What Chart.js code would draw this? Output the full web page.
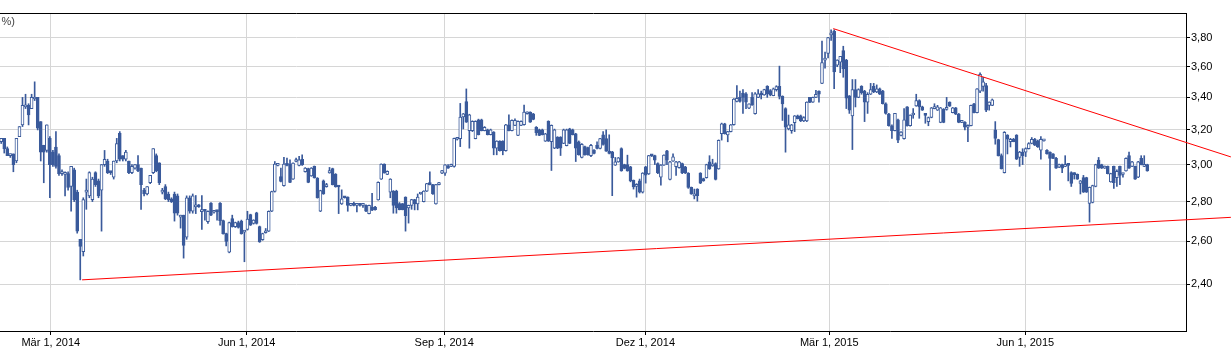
<!DOCTYPE html>
<html>
<head>
<meta charset="utf-8">
<script src="https://cdn.jsdelivr.net/npm/chart.js@4.4.1/dist/chart.umd.min.js"></script>
<style>
    html, body { margin: 0; padding: 0; background: #fff; }
    #wrap { width: 1231px; height: 350px; }
</style>
</head>
<body>
<div id="wrap"><canvas id="kurs" width="1231" height="350"></canvas></div>
<script>
// one candle per trading day, x = index of the day
var opens = [
    3.13,3.15,3.09,3.05,3.06,3.02,3.16,3.23,3.34,3.35,
    3.33,3.39,3.40,3.25,3.11,3.08,3.15,3.07,3.10,3.05,
    2.95,2.946,2.95,2.88,2.97,2.85,2.61,2.55,2.85,2.83,
    2.81,2.955,2.91,2.86,3.00,3.02,2.96,2.93,3.02,3.18,
    3.05,3.03,3.02,2.955,2.98,3.00,2.98,2.86,2.84,2.90,
    2.955,3.05,3.01,2.85,2.88,2.84,2.815,2.84,2.83,2.72,
    2.73,2.62,2.82,2.75,
    2.772,2.783,2.748,2.752,2.697,2.792,2.745,2.75,2.792,2.702,
    2.638,2.548,2.713,2.672,2.692,2.70,2.645,2.658,2.733,2.688,
    2.742,2.672,2.608,2.642,2.65,2.75,2.853,2.995,2.934,2.884,
    3.002,3.002,2.92,3.017,2.995,3.03,2.96,2.977,2.937,2.99,
    2.925,2.75,2.911,2.879,2.954,2.977,2.946,2.879,2.788,2.823,
    2.823,2.78,2.782,2.78,2.781,2.78,2.78,2.738,2.772,2.772,
    2.809,2.92,3.002,2.946,2.849,
    2.855,2.855,2.79,2.79,2.823,2.767,2.78,2.81,2.788,2.84,
    2.80,2.855,2.90,2.89,2.788,2.89,2.952,2.952,2.99,2.99,
    2.99,3.145,
    3.149,3.278,3.373,3.196,3.196,3.149,3.261,3.261,3.196,3.20,
    3.172,3.187,3.093,3.134,3.134,3.078,3.231,3.196,3.227,3.168,
    3.227,3.231,3.298,3.308,3.298,3.216,3.20,3.20,3.134,3.251,
    3.13,3.093,3.158,3.158,3.121,3.108,3.206,3.20,3.177,3.13,
    3.04,3.102,3.096,
    3.05,3.082,3.11,3.091,3.171,3.149,3.076,3.072,2.997,3.015,
    3.091,3.00,3.00,2.988,2.913,2.88,2.91,2.849,2.988,2.948,
    3.05,3.05,3.006,2.93,2.997,3.078,2.918,3.019,2.988,2.983,
    3.006,2.988,2.953,2.875,2.83,2.866,2.953,2.923,2.927,3.015,
    2.993,3.006,2.976,3.177,3.237,3.171,3.19,3.231,3.374,3.40,
    3.428,3.422,3.333,3.40,3.298,3.40,3.426,3.415,3.471,3.443,
    3.411,3.45,3.471,3.406,
    3.33,3.206,3.196,3.244,3.285,3.285,3.254,3.254,3.40,3.37,
    3.40,3.44,3.49,3.645,3.69,3.82,3.845,3.61,3.63,3.71,
    3.645,3.41,3.285,3.45,3.40,3.47,3.44,3.37,3.42,3.47,
    3.435,3.455,3.44,3.36,3.295,3.225,3.196,3.26,3.167,3.148,
    3.34,3.225,3.29,3.346,3.38,3.34,3.29,3.25,3.275,3.33,
    3.32,3.245,3.325,3.325,3.37,3.305,3.335,3.295,3.245,3.245,
    3.216,3.226,3.36,3.305,
    3.44,3.47,3.475,3.35,3.35,3.20,3.143,3.05,2.955,3.17,
    3.13,3.145,3.17,3.04,3.07,3.07,3.09,3.12,3.145,3.135,
    3.082,3.135,3.08,3.07,3.06,3.035,2.985,3.00,2.99,3.00,
    2.955,2.946,2.946,2.897,2.928,2.928,2.79,2.795,2.88,3.025,
    3.00,2.98,2.99,2.905,2.99,2.928,2.99,2.945,2.965,3.05,
    2.99,2.99,2.93,3.035,2.99,3.00
];
var highs = [
    3.15,3.15,3.10,3.06,3.06,3.15,3.22,3.40,3.42,3.36,
    3.42,3.50,3.40,3.25,3.11,3.23,3.16,3.08,3.19,3.06,
    2.97,2.96,2.96,2.99,2.98,2.86,2.61,2.82,2.92,2.96,
    2.93,2.96,2.92,3.00,3.08,3.03,2.96,3.02,3.15,3.19,
    3.05,3.08,3.02,3.00,3.00,3.05,2.98,2.87,2.88,2.94,
    3.09,3.06,3.01,2.87,2.89,2.85,2.82,2.85,2.84,2.73,
    2.73,2.83,2.83,2.84,
    2.832,2.785,2.832,2.753,2.752,2.795,2.752,2.752,2.795,2.705,
    2.64,2.695,2.73,2.695,2.70,2.705,2.652,2.75,2.735,2.707,
    2.745,2.675,2.64,2.663,2.752,2.855,3.017,3.005,2.981,3.04,
    3.036,3.027,3.01,3.036,3.046,3.055,2.983,2.98,2.983,2.992,
    2.928,2.86,2.915,2.897,2.984,2.98,2.95,2.882,2.862,2.825,
    2.825,2.785,2.797,2.783,2.785,2.79,2.783,2.782,2.844,2.775,
    2.905,3.004,3.004,2.965,2.922,
    2.858,2.86,2.795,2.79,2.825,2.782,2.812,2.812,2.84,2.846,
    2.857,2.897,2.96,2.892,2.892,2.902,2.968,3.00,3.00,3.002,
    3.152,3.152,
    3.362,3.30,3.454,3.295,3.255,3.255,3.265,3.265,3.22,3.205,
    3.205,3.19,3.136,3.136,3.136,3.233,3.292,3.26,3.267,3.255,
    3.255,3.352,3.31,3.31,3.30,3.22,3.205,3.205,3.18,3.255,
    3.23,3.205,3.16,3.16,3.205,3.205,3.21,3.205,3.18,3.135,
    3.12,3.105,3.10,
    3.115,3.085,3.13,3.15,3.19,3.2,3.171,3.075,3.04,3.04,
    3.095,3.002,3.053,2.99,2.915,2.895,2.92,2.955,2.99,3.052,
    3.053,3.053,3.01,3.0,3.055,3.08,3.018,3.06,3.018,3.018,
    3.008,2.99,2.955,2.877,2.866,2.868,2.955,2.925,3.002,3.05,
    3.03,3.01,3.141,3.241,3.24,3.192,3.233,3.392,3.475,3.44,
    3.45,3.43,3.36,3.43,3.43,3.45,3.44,3.452,3.475,3.45,
    3.46,3.475,3.604,3.41,
    3.335,3.29,3.233,3.287,3.29,3.29,3.28,3.372,3.40,3.402,
    3.445,3.442,3.777,3.70,3.802,3.856,3.856,3.647,3.67,3.74,
    3.65,3.412,3.515,3.515,3.455,3.475,3.445,3.43,3.49,3.49,
    3.48,3.46,3.445,3.365,3.30,3.23,3.30,3.265,3.19,3.33,
    3.342,3.292,3.33,3.42,3.385,3.345,3.295,3.278,3.337,3.36,
    3.35,3.337,3.33,3.40,3.372,3.337,3.337,3.30,3.258,3.25,
    3.23,3.352,3.362,3.457,
    3.56,3.53,3.49,3.372,3.39,3.25,3.145,3.06,3.19,3.172,
    3.15,3.15,3.172,3.075,3.09,3.095,3.125,3.155,3.15,3.14,
    3.16,3.145,3.085,3.072,3.062,3.04,3.002,3.002,3.05,3.002,
    2.96,2.955,2.948,2.912,2.94,2.93,2.877,2.887,3.002,3.04,
    3.002,2.992,2.992,2.952,2.992,2.97,2.992,2.95,3.038,3.07,
    3.018,2.992,3.018,3.05,3.05,3.002
];
var lows = [
    3.12,3.065,3.05,3.04,2.96,3.01,3.16,3.22,3.33,3.23,
    3.33,3.38,3.20,3.02,2.90,3.07,2.82,2.99,2.98,2.94,
    2.94,2.83,2.86,2.75,2.80,2.64,2.42,2.53,2.76,2.82,
    2.80,2.88,2.82,2.65,2.99,2.95,2.945,2.92,3.01,3.02,
    3.02,3.02,2.95,2.95,2.975,2.96,2.76,2.83,2.835,2.895,
    2.95,2.96,2.89,2.84,2.81,2.80,2.795,2.70,2.73,2.665,
    2.52,2.61,2.74,2.74,
    2.738,2.77,2.658,2.705,2.688,2.728,2.74,2.705,2.68,2.635,
    2.578,2.545,2.67,2.668,2.665,2.635,2.503,2.655,2.678,2.685,
    2.685,2.595,2.605,2.64,2.648,2.748,2.85,2.993,2.905,2.882,
    2.993,2.90,2.918,3.015,2.993,2.995,2.958,2.90,2.935,2.925,
    2.818,2.748,2.838,2.876,2.952,2.888,2.876,2.738,2.785,2.818,
    2.75,2.778,2.778,2.747,2.776,2.77,2.748,2.736,2.753,2.756,
    2.807,2.918,2.952,2.944,2.82,
    2.74,2.74,2.757,2.757,2.65,2.69,2.76,2.757,2.757,2.838,
    2.798,2.853,2.888,2.838,2.786,2.888,2.95,2.94,2.978,2.988,
    2.985,3.14,
    3.102,3.206,3.245,3.093,3.19,3.147,3.17,3.194,3.194,3.17,
    3.17,3.055,3.055,3.076,3.055,3.076,3.194,3.194,3.225,3.166,
    3.225,3.229,3.296,3.245,3.261,3.168,3.166,3.17,3.132,3.132,
    2.967,3.09,3.09,3.051,3.119,3.106,3.119,3.17,3.017,3.053,
    3.038,3.053,3.053,
    3.045,3.06,3.088,3.088,3.11,3.074,3.06,2.831,2.995,3.013,
    2.963,2.976,2.963,2.905,2.866,2.823,2.845,2.845,2.898,2.945,
    3.045,3.0,2.95,2.887,2.995,3.0,2.915,3.017,2.94,2.98,
    2.95,2.95,2.87,2.838,2.814,2.802,2.895,2.908,2.925,2.973,
    2.99,2.915,2.974,3.14,3.175,3.13,3.188,3.229,3.372,3.37,
    3.30,3.33,3.33,3.35,3.296,3.398,3.39,3.413,3.40,3.41,
    3.41,3.44,3.39,3.257,
    3.07,3.20,3.18,3.19,3.266,3.25,3.25,3.25,3.366,3.368,
    3.398,3.37,3.488,3.59,3.66,3.78,3.455,3.60,3.56,3.53,
    3.33,3.30,3.085,3.34,3.398,3.42,3.25,3.30,3.418,3.43,
    3.43,3.418,3.358,3.295,3.222,3.15,3.194,3.125,3.165,3.146,
    3.222,3.222,3.27,3.344,3.27,3.318,3.24,3.225,3.273,3.328,
    3.318,3.243,3.243,3.32,3.343,3.303,3.293,3.243,3.243,3.20,
    3.13,3.224,3.303,3.303,
    3.43,3.44,3.31,3.32,3.348,3.116,3.048,2.975,2.953,3.06,
    3.10,3.13,3.028,2.99,3.00,3.045,3.088,3.118,3.108,3.098,
    3.03,3.133,3.058,2.86,3.033,2.978,2.983,2.955,2.988,2.91,
    2.88,2.92,2.918,2.84,2.848,2.848,2.695,2.793,2.878,2.978,
    2.978,2.978,2.948,2.903,2.87,2.88,2.89,2.93,2.963,2.978,
    2.988,2.918,2.928,2.998,2.988,2.963
];
var closes = [
    3.15,3.09,3.05,3.06,3.00,3.15,3.22,3.35,3.35,3.29,
    3.40,3.40,3.21,3.07,3.07,3.23,3.00,3.00,2.99,2.95,
    2.96,2.95,2.875,2.99,2.81,2.65,2.575,2.81,2.86,2.955,
    2.92,2.89,2.83,3.00,3.03,2.955,2.955,3.02,3.12,3.03,
    3.03,3.07,2.955,2.99,3.00,2.965,2.89,2.84,2.88,2.94,
    3.09,2.965,2.90,2.86,2.815,2.81,2.80,2.74,2.74,2.73,
    2.58,2.82,2.75,2.83,
    2.783,2.772,2.752,2.75,2.75,2.73,2.75,2.748,2.702,2.638,
    2.60,2.692,2.672,2.692,2.668,2.638,2.647,2.71,2.68,2.705,
    2.688,2.597,2.638,2.65,2.75,2.853,3.002,3.002,2.907,3.002,
    2.995,2.902,3.008,3.021,3.027,2.998,2.981,2.902,2.981,2.928,
    2.82,2.858,2.84,2.881,2.967,2.89,2.879,2.877,2.814,2.82,
    2.78,2.782,2.78,2.781,2.78,2.783,2.75,2.78,2.755,2.758,
    2.902,3.002,2.954,2.963,2.92,
    2.78,2.767,2.758,2.758,2.728,2.78,2.81,2.788,2.823,2.845,
    2.855,2.895,2.89,2.84,2.89,2.90,2.966,2.998,2.98,2.998,
    3.15,3.15,
    3.278,3.298,3.247,3.292,3.251,3.251,3.172,3.196,3.216,3.172,
    3.20,3.093,3.134,3.078,3.078,3.231,3.196,3.257,3.257,3.251,
    3.251,3.308,3.308,3.247,3.263,3.183,3.168,3.172,3.177,3.134,
    3.227,3.20,3.093,3.093,3.20,3.20,3.121,3.172,3.093,3.055,
    3.115,3.055,3.055,
    3.11,3.063,3.091,3.149,3.114,3.076,3.063,3.038,3.015,3.038,
    2.965,2.979,2.965,2.91,2.878,2.892,2.849,2.953,2.941,3.05,
    3.049,3.025,2.953,2.997,3.053,3.025,3.015,3.044,3.015,3.015,
    2.953,2.953,2.875,2.84,2.831,2.831,2.898,2.91,3.00,2.976,
    3.0,2.918,3.139,3.237,3.177,3.19,3.231,3.39,3.394,3.374,
    3.40,3.37,3.359,3.353,3.422,3.422,3.415,3.45,3.422,3.415,
    3.454,3.469,3.406,3.359,
    3.216,3.23,3.23,3.285,3.268,3.254,3.275,3.37,3.368,3.40,
    3.42,3.42,3.628,3.65,3.80,3.83,3.565,3.645,3.67,3.587,
    3.395,3.32,3.45,3.40,3.45,3.43,3.37,3.42,3.45,3.435,
    3.455,3.42,3.36,3.30,3.225,3.196,3.30,3.14,3.187,3.26,
    3.225,3.29,3.292,3.38,3.34,3.32,3.288,3.275,3.335,3.34,
    3.34,3.335,3.245,3.327,3.345,3.335,3.295,3.245,3.255,3.216,
    3.226,3.35,3.305,3.455,
    3.55,3.50,3.32,3.37,3.385,3.15,3.05,2.977,3.185,3.145,
    3.145,3.13,3.03,3.07,3.05,3.09,3.12,3.145,3.11,3.10,
    3.145,3.14,3.06,3.035,3.035,2.98,3.00,2.98,3.00,2.995,
    2.897,2.944,2.92,2.91,2.85,2.85,2.875,2.885,3.00,2.98,
    2.98,2.99,2.95,2.95,2.90,2.963,2.94,2.947,3.035,2.98,
    3.015,2.92,3.015,3.00,3.00,2.965
];

// date ticks, placed on the trading day axis
var xTickPos = [16.3, 80.75, 145.75, 211.9, 272.4, 336.9];
var xTickLabels = ['Mär 1, 2014', 'Jun 1, 2014', 'Sep 1, 2014', 'Dez 1, 2014', 'Mär 1, 2015', 'Jun 1, 2015'];
var yTicks = [2.4, 2.6, 2.8, 3.0, 3.2, 3.4, 3.6, 3.8];

// trend lines: [day index, price]
var supportLine = [[26.6, 2.42], [404.5, 2.719]];
var resistLine = [[273.7, 3.865], [404.5, 3.043]];

var blau = '#3a5a9b';

var wickData = [];
var bodyData = [];
var bodyFill = [];
for (var i = 0; i < closes.length; i++) {
    wickData.push({ x: i, y: [lows[i], highs[i]] });
    bodyData.push({ x: i, y: [opens[i], closes[i]] });
    bodyFill.push(closes[i] >= opens[i] ? '#ffffff' : blau);
}

function toPoints(arr) {
    return arr.map(function (p) { return { x: p[0], y: p[1] }; });
}

// top frame line and the cut off unit label
var rahmen = {
    id: 'rahmen',
    afterDraw: function (chart) {
        var c = chart.ctx, a = chart.chartArea;
        c.save();
        c.strokeStyle = '#000';
        c.lineWidth = 1;
        c.beginPath();
        c.moveTo(0, a.top + 0.5);
        c.lineTo(a.right + 1, a.top + 0.5);
        c.stroke();
        c.fillStyle = '#444';
        c.font = '11px "Liberation Sans", Arial, sans-serif';
        c.textAlign = 'right';
        c.textBaseline = 'middle';
        c.fillText('(in %)', 15, 22);
        c.restore();
    }
};

Chart.defaults.font.family = '"Liberation Sans", Arial, sans-serif';
Chart.defaults.font.size = 11;
Chart.defaults.color = '#000';

var kursChart = new Chart(document.getElementById('kurs'), {
    type: 'bar',
    data: {
        datasets: [{
            type: 'line',
            data: toPoints(supportLine),
            borderColor: '#ff0000',
            borderWidth: 1,
            pointRadius: 0,
            clip: false,
            order: 0
        },
        {
            type: 'line',
            data: toPoints(resistLine),
            borderColor: '#ff0000',
            borderWidth: 1,
            pointRadius: 0,
            clip: false,
            order: 0
        },
        {
            data: bodyData,
            backgroundColor: bodyFill,
            borderColor: blau,
            borderWidth: 1,
            borderSkipped: false,
            barThickness: 3,
            minBarLength: 2,
            grouped: false,
            order: 1
        },
        {
            data: wickData,
            backgroundColor: blau,
            borderWidth: 0,
            barThickness: 1,
            grouped: false,
            order: 2
        }]
    },
    options: {
        responsive: false,
        animation: false,
        events: [],
        layout: { padding: { top: 13, left: 0, right: 0, bottom: 0 } },
        plugins: {
            legend: { display: false },
            tooltip: { enabled: false }
        },
        scales: {
            x: {
                type: 'linear',
                min: -0.4,
                max: 389.74,
                offset: false,
                afterBuildTicks: function (s) {
                    s.ticks = xTickPos.map(function (v) { return { value: v }; });
                },
                afterFit: function (s) { s.height = 19; },
                ticks: {
                    autoSkip: false,
                    maxRotation: 0,
                    padding: 1,
                    callback: function (v, idx) { return xTickLabels[idx]; }
                },
                grid: { offset: false, color: '#d6d6d6', tickColor: '#000', tickLength: 4 },
                border: { color: '#000' }
            },
            y: {
                type: 'logarithmic',
                position: 'right',
                min: 2.2176,
                max: 3.979,
                afterBuildTicks: function (s) {
                    s.ticks = yTicks.map(function (v) { return { value: v }; });
                },
                afterFit: function (s) { s.width = 45; },
                ticks: {
                    autoSkip: false,
                    padding: 1,
                    callback: function (v) { return Number(v).toFixed(2).replace('.', ','); }
                },
                grid: { color: '#d6d6d6', tickColor: '#000', tickLength: 4 },
                border: { color: '#000' }
            }
        }
    },
    plugins: [rahmen]
});
</script>
</body>
</html>
